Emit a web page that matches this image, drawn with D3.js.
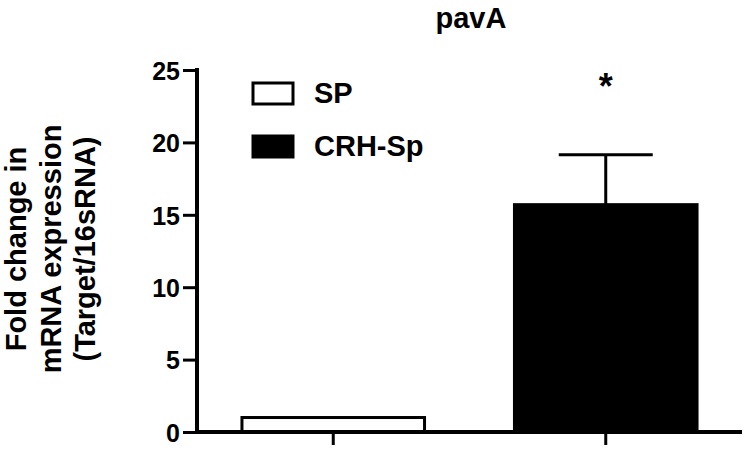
<!DOCTYPE html>
<html><head><meta charset="utf-8">
<script src="https://cdn.jsdelivr.net/npm/d3@7"></script>
<style>body{margin:0;background:#fff}svg{display:block}text{font-family:"Liberation Sans",Arial,sans-serif;font-weight:bold}</style>
</head><body><svg id="c" width="746" height="450"></svg>
<script>
const categories = ["SP", "CRH-Sp"];
const values = [1.0, 15.7];
const errors = [0, 3.45];
const fills = ["#fff", "#000"];
const yTicks = [0, 5, 10, 15, 20, 25];
const title = "pavA";
const yLabel = ["Fold change in", "mRNA expression", "(Target/16sRNA)"];
const sig = ["", "*"];

const svg = d3.select("#c");
const x0 = 197, x1 = 742, yTop = 70, yBot = 432;
const x = d3.scaleBand().domain(categories).range([x0, x1]).paddingInner(0.33).paddingOuter(0.165);
const y = d3.scaleLinear().domain([0, 25]).range([yBot, yTop]);

// bars
svg.selectAll("rect.bar").data(categories).enter().append("rect")
  .attr("x", d => x(d)).attr("width", x.bandwidth())
  .attr("y", (d,i) => y(values[i])).attr("height", (d,i) => yBot - y(values[i]))
  .attr("fill", (d,i) => fills[i]).attr("stroke", "#000").attr("stroke-width", 3);

// error bars
categories.forEach((c,i) => {
  if (!errors[i]) return;
  const cx = x(c) + x.bandwidth()/2;
  svg.append("line").attr("x1", cx).attr("x2", cx).attr("y1", y(values[i])).attr("y2", y(values[i]+errors[i])).attr("stroke","#000").attr("stroke-width",3);
  svg.append("line").attr("x1", cx-47).attr("x2", cx+47).attr("y1", y(values[i]+errors[i])).attr("y2", y(values[i]+errors[i])).attr("stroke","#000").attr("stroke-width",3);
  svg.append("text").attr("x", cx).attr("y", 99).attr("text-anchor","middle").attr("font-size", 36).text(sig[i]);
});

// y axis
const ya = svg.append("g").attr("transform", `translate(${x0},0)`)
  .call(d3.axisLeft(y).tickValues(yTicks).tickSize(14).tickPadding(3).tickFormat(d3.format("d")));
ya.select(".domain").attr("stroke-width", 4).attr("d", `M0,${yTop-2}V${yBot}`);
ya.selectAll(".tick line").attr("stroke-width", 3);
ya.selectAll(".tick text").attr("font-size", 25).attr("fill","#000").attr("dy","0.37em");

// x axis
const xa = svg.append("g").attr("transform", `translate(0,${yBot})`)
  .call(d3.axisBottom(x).tickSize(13).tickFormat(""));
xa.select(".domain").attr("stroke-width", 4).attr("d", `M${x0},0H${x1}`);
xa.selectAll(".tick line").attr("stroke-width", 3);

// title
svg.append("text").attr("x", 471).attr("y", 28).attr("text-anchor","middle").attr("font-size", 29).text(title);

// y label
const yl = svg.append("text").attr("transform", "translate(26,249) rotate(-90)").attr("text-anchor","middle").attr("font-size", 29);
yLabel.forEach((t,i) => yl.append("tspan").attr("x",0).attr("dy", i===0?0:34.5).text(t));

// legend
categories.forEach((c,i) => {
  const ly = 83 + i*53;
  svg.append("rect").attr("x", 253).attr("y", ly).attr("width", 40).attr("height", 21).attr("fill", fills[i]).attr("stroke","#000").attr("stroke-width",3);
  svg.append("text").attr("x", 314).attr("y", ly + 20).attr("font-size", 29).text(c);
});
</script></body></html>
